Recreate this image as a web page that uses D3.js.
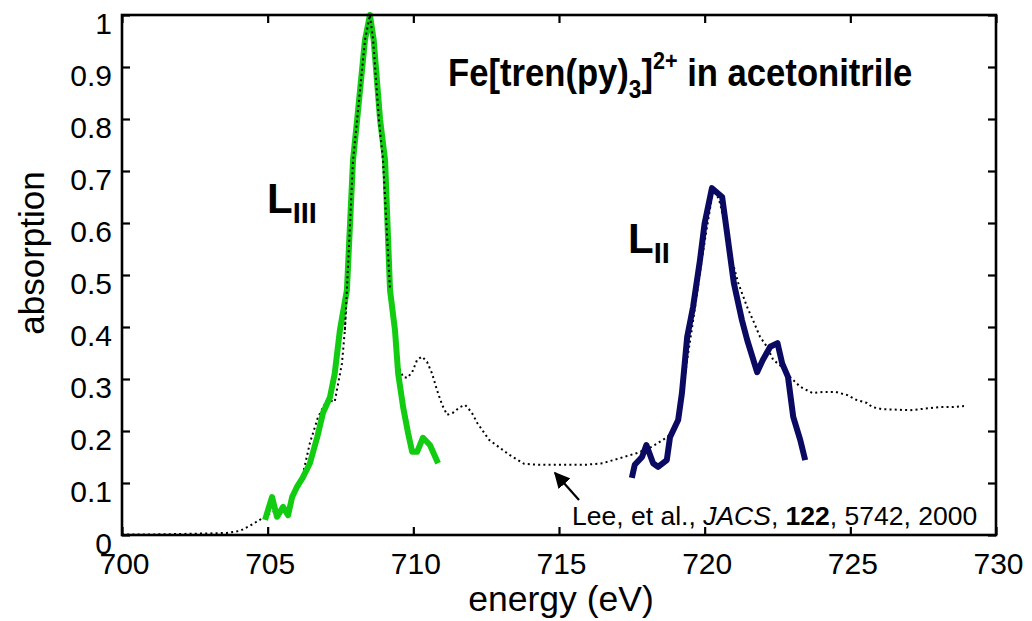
<!DOCTYPE html>
<html>
<head>
<meta charset="utf-8">
<script src="https://cdn.jsdelivr.net/npm/d3@7"></script>
<style>
  html, body { margin: 0; padding: 0; background: #fff; }
  svg { display: block; font-family: "Liberation Sans", Arial, Helvetica, sans-serif; }
</style>
</head>
<body>
<svg id="chart" width="1032" height="621"></svg>
<script>
// ---- Data ----
const xTicks = [700, 705, 710, 715, 720, 725, 730];
const yTicks = [0, 0.1, 0.2, 0.3, 0.4, 0.5, 0.6, 0.7, 0.8, 0.9, 1];
const yTickLabels = ["0", "0.1", "0.2", "0.3", "0.4", "0.5", "0.6", "0.7", "0.8", "0.9", "1"];

// reference spectrum (dotted) — energy, absorption
const refEnergy = [700, 701, 702, 703, 703.6, 704.05, 704.4, 704.84, 705.15, 705.7, 705.94, 706.18, 706.45, 706.73, 707.04, 707.3, 707.55, 707.65, 707.72, 707.93, 708.07, 708.34, 708.51, 708.62, 708.82, 708.96, 709.2, 709.37, 709.44, 709.65, 709.79, 709.96, 710.13, 710.3, 710.47, 710.64, 710.81, 710.99, 711.16, 711.36, 711.6, 711.78, 712.0, 712.2, 712.6, 713.3, 713.8, 714.3, 715.0, 715.9, 716.5, 717.1, 717.7, 718.1, 718.57, 718.9, 719.16, 719.26, 719.4, 719.57, 719.74, 719.9, 720.08, 720.25, 720.36, 720.53, 720.7, 720.94, 721.15, 721.46, 721.66, 721.9, 722.14, 722.35, 722.66, 722.93, 723.28, 723.7, 724.07, 724.5, 724.9, 725.2, 725.57, 725.75, 726.1, 727.05, 727.4, 728.08, 728.5, 728.9];
const refAbs =    [0.001, 0.001, 0.002, 0.003, 0.004, 0.008, 0.018, 0.033, 0.044, 0.052, 0.08, 0.11, 0.177, 0.227, 0.26, 0.256, 0.33, 0.394, 0.471, 0.721, 0.798, 0.952, 1.0, 0.952, 0.798, 0.721, 0.471, 0.394, 0.33, 0.304, 0.302, 0.313, 0.337, 0.343, 0.333, 0.311, 0.279, 0.25, 0.231, 0.235, 0.246, 0.25, 0.236, 0.215, 0.183, 0.154, 0.137, 0.135, 0.135, 0.135, 0.138, 0.148, 0.158, 0.167, 0.183, 0.196, 0.235, 0.279, 0.337, 0.4, 0.465, 0.529, 0.592, 0.65, 0.663, 0.638, 0.592, 0.529, 0.485, 0.438, 0.413, 0.381, 0.362, 0.337, 0.323, 0.304, 0.285, 0.273, 0.275, 0.275, 0.269, 0.26, 0.254, 0.246, 0.242, 0.24, 0.242, 0.246, 0.246, 0.248];

// L_III edge (green)
const l3Energy = [704.91, 705.15, 705.32, 705.53, 705.7, 705.84, 706.0, 706.2, 706.45, 706.7, 706.9, 707.14, 707.3, 707.48, 707.72, 707.93, 708.07, 708.34, 708.51, 708.64, 708.86, 709.03, 709.2, 709.37, 709.48, 709.65, 709.82, 709.96, 710.13, 710.33, 710.57, 710.85];
const l3Abs =    [0.029, 0.073, 0.035, 0.054, 0.038, 0.073, 0.092, 0.11, 0.138, 0.188, 0.235, 0.265, 0.31, 0.394, 0.471, 0.721, 0.798, 0.952, 1.0, 0.952, 0.798, 0.721, 0.471, 0.394, 0.31, 0.246, 0.196, 0.16, 0.16, 0.187, 0.173, 0.138];

// L_II edge (navy)
const l2Energy = [717.5, 717.6, 717.85, 718.0, 718.23, 718.4, 718.7, 718.81, 719.09, 719.22, 719.4, 719.6, 719.84, 720.0, 720.25, 720.6, 720.77, 721.0, 721.28, 721.46, 721.8, 722.0, 722.25, 722.5, 722.66, 722.86, 723.04, 723.28, 723.45];
const l2Abs =    [0.11, 0.135, 0.15, 0.173, 0.138, 0.131, 0.144, 0.188, 0.221, 0.273, 0.381, 0.438, 0.529, 0.6, 0.667, 0.65, 0.58, 0.485, 0.413, 0.375, 0.313, 0.337, 0.362, 0.369, 0.33, 0.304, 0.227, 0.183, 0.144];

// ---- Layout ----
const svg = d3.select("#chart");
const mLeft = 122, mRight = 996, mTop = 15, mBottom = 535;

const x = d3.scaleLinear().domain([700, 730]).range([mLeft, mRight]);
const y = d3.scaleLinear().domain([0, 1]).range([mBottom, mTop]);

const zip = (a, b) => a.map((v, i) => [v, b[i]]);
const line = d3.line().x(d => x(d[0])).y(d => y(d[1]));

// reference dotted
svg.append("path")
  .datum(zip(refEnergy, refAbs))
  .attr("d", line)
  .attr("fill", "none")
  .attr("stroke", "#000")
  .attr("stroke-width", 2)
  .attr("stroke-dasharray", "2,3.2");

// L3 green
svg.append("path")
  .datum(zip(l3Energy, l3Abs))
  .attr("d", line)
  .attr("fill", "none")
  .attr("stroke", "#11cc11")
  .attr("stroke-width", 6)
  .attr("stroke-linejoin", "round");

// dotted visible on top of green in the peak region
svg.append("path")
  .datum(zip(refEnergy, refAbs).filter(d => d[0] >= 707.6 && d[0] <= 709.3))
  .attr("d", line)
  .attr("fill", "none")
  .attr("stroke", "#000")
  .attr("stroke-width", 2)
  .attr("stroke-dasharray", "2,3.2");

// L2 navy
svg.append("path")
  .datum(zip(l2Energy, l2Abs))
  .attr("d", line)
  .attr("fill", "none")
  .attr("stroke", "#0a0a62")
  .attr("stroke-width", 6)
  .attr("stroke-linejoin", "round");

// ---- Axes ----
const tickFont = 30;
const xAxis = svg.append("g").attr("transform", `translate(0,${mBottom})`)
  .call(d3.axisBottom(x).tickValues(xTicks).tickSize(-8).tickPadding(18).tickFormat(d3.format("d")));
const yAxis = svg.append("g").attr("transform", `translate(${mLeft},0)`)
  .call(d3.axisLeft(y).tickValues(yTicks).tickSize(-8).tickPadding(10).tickFormat((d, i) => yTickLabels[i]));
const xTop = svg.append("g").attr("transform", `translate(0,${mTop})`)
  .call(d3.axisTop(x).tickValues(xTicks).tickSize(-8).tickFormat(""));
const yRight = svg.append("g").attr("transform", `translate(${mRight},0)`)
  .call(d3.axisRight(y).tickValues(yTicks).tickSize(-8).tickFormat(""));

[xAxis, yAxis, xTop, yRight].forEach(g => {
  g.select(".domain").remove();
  g.selectAll(".tick line").attr("stroke", "#000").attr("stroke-width", 2.2);
  g.selectAll(".tick text").attr("fill", "#000")
    .style("font-size", tickFont + "px")
    .style("font-family", "'Liberation Sans', Arial, sans-serif");
});
xAxis.selectAll(".tick text").attr("dx", 2);
yAxis.selectAll(".tick text").attr("dy", 18);

// frame
svg.append("rect")
  .attr("x", mLeft).attr("y", mTop)
  .attr("width", mRight - mLeft).attr("height", mBottom - mTop)
  .attr("fill", "none").attr("stroke", "#000").attr("stroke-width", 2.6);

// axis titles
svg.append("text")
  .attr("x", 561).attr("y", 611)
  .attr("text-anchor", "middle")
  .style("font-size", "35.5px")
  .text("energy (eV)");

svg.append("text")
  .attr("transform", "translate(44,253) rotate(-90)")
  .attr("text-anchor", "middle")
  .style("font-size", "35px")
  .text("absorption");

// title (slightly condensed bold face)
const title = svg.append("text")
  .attr("transform", "translate(448,86) scale(0.9,1)")
  .style("font-size", "38.5px").style("font-weight", "bold");
title.append("tspan").text("Fe[tren(py)");
title.append("tspan").attr("dy", 12).style("font-size", "25px").text("3");
title.append("tspan").attr("dy", -12).text("]");
title.append("tspan").attr("dy", -17).style("font-size", "24px").text("2+");
title.append("tspan").attr("dy", 17).text(" in acetonitrile");

// edge labels
const l3 = svg.append("text").attr("x", 267).attr("y", 213)
  .style("font-weight", "bold").style("font-size", "42px");
l3.append("tspan").text("L");
l3.append("tspan").attr("dy", 10).style("font-size", "29px").text("III");

const l2 = svg.append("text").attr("x", 628).attr("y", 253)
  .style("font-weight", "bold").style("font-size", "42px");
l2.append("tspan").text("L");
l2.append("tspan").attr("dy", 10).style("font-size", "29px").text("II");

// citation
const cite = svg.append("text").attr("x", 572).attr("y", 525)
  .style("font-size", "26.5px");
cite.append("tspan").text("Lee, et al., ");
cite.append("tspan").style("font-style", "italic").text("JACS");
cite.append("tspan").text(", ");
cite.append("tspan").style("font-weight", "bold").text("122");
cite.append("tspan").text(", 5742, 2000");

// arrow
svg.append("defs").append("marker")
  .attr("id", "ah").attr("viewBox", "0 0 10 10")
  .attr("refX", 9).attr("refY", 5)
  .attr("markerWidth", 16).attr("markerHeight", 16)
  .attr("markerUnits", "userSpaceOnUse")
  .attr("orient", "auto")
  .append("path").attr("d", "M0,0 L10,5 L0,10 Z").attr("fill", "#000");
svg.append("line")
  .attr("x1", 579).attr("y1", 500).attr("x2", 555).attr("y2", 473)
  .attr("stroke", "#000").attr("stroke-width", 2.2)
  .attr("marker-end", "url(#ah)");
</script>
</body>
</html>
